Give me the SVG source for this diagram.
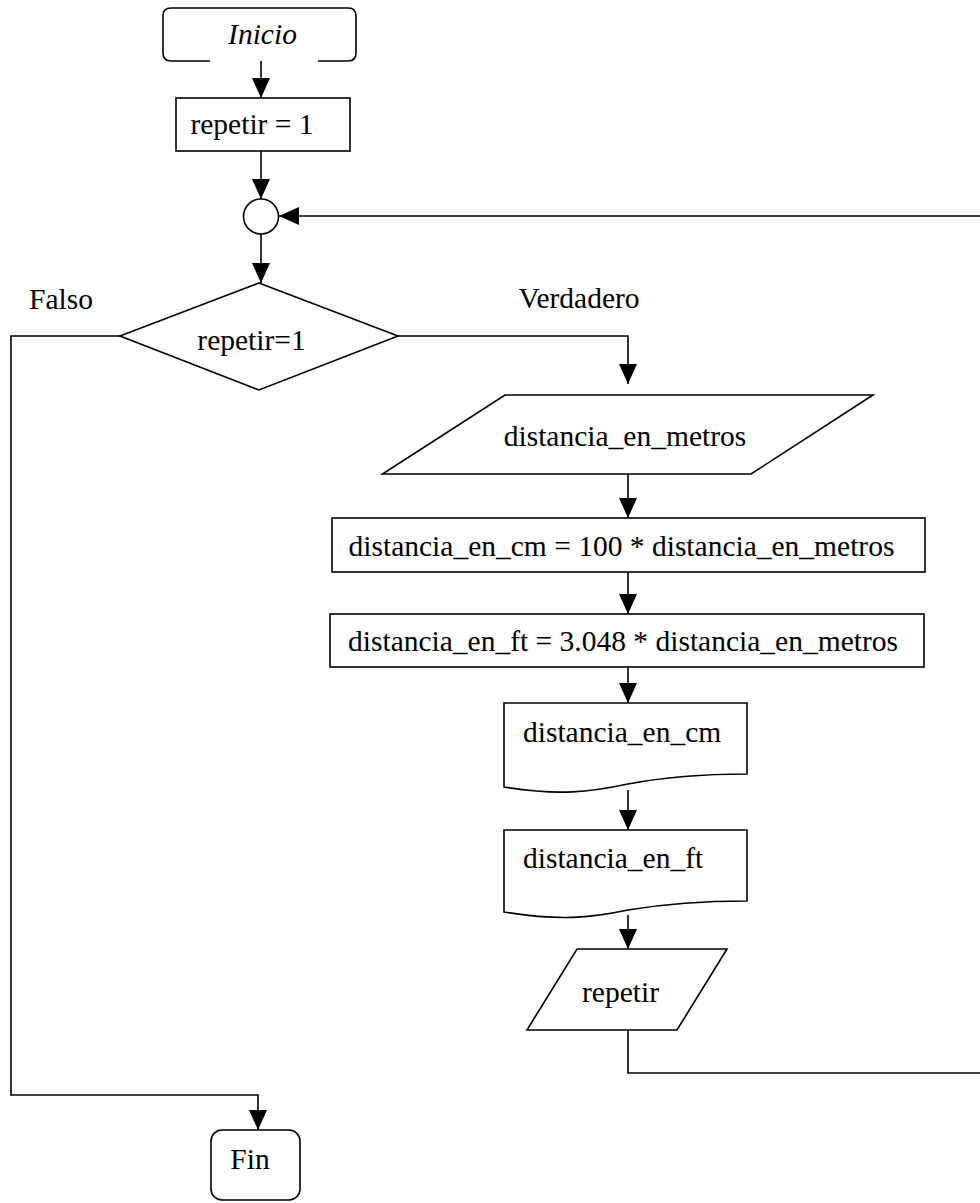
<svg xmlns="http://www.w3.org/2000/svg" width="980" height="1203" viewBox="0 0 980 1203" font-family="'Liberation Serif', 'Times New Roman', Times, serif">
<style>
.s{fill:#fff;stroke:#000;stroke-width:1.6}
.c{fill:none;stroke:#000;stroke-width:1.6}
text{font-family:'Liberation Serif','Times New Roman',Times,serif;font-size:29.5px;fill:#000}
.m{text-anchor:middle}
</style>
<defs>
<marker id="ah" markerUnits="userSpaceOnUse" markerWidth="20" markerHeight="18" refX="20" refY="9" orient="auto">
<path d="M0,0 L20,9 L0,18 z" fill="#000"/>
</marker>
</defs>
<rect width="980" height="1203" fill="#fff"/>
<g id="connectors">
<path class="c" d="M261,61 V98" marker-end="url(#ah)"/>
<path class="c" d="M261,151 V199" marker-end="url(#ah)"/>
<path class="c" d="M261,234 V283" marker-end="url(#ah)"/>
<path class="c" d="M398,336 H628 V384" marker-end="url(#ah)"/>
<path class="c" d="M628,474 V518" marker-end="url(#ah)"/>
<path class="c" d="M628,572 V614" marker-end="url(#ah)"/>
<path class="c" d="M628,667 V703" marker-end="url(#ah)"/>
<path class="c" d="M628,790 V830" marker-end="url(#ah)"/>
<path class="c" d="M628,915 V949" marker-end="url(#ah)"/>
<path class="c" d="M628,1030 V1073 H990 V216 H279" marker-end="url(#ah)"/>
<path class="c" d="M120,336 H11 V1095 H258 V1130" marker-end="url(#ah)"/>
</g>
<g id="inicio">
<path class="c" d="M210,61 H171 Q163,61 163,53 V16 Q163,8 171,8 H348 Q356,8 356,16 V53 Q356,61 348,61 H318"/>
<text class="m" x="262.5" y="44" font-style="italic">Inicio</text>
</g>
<g id="init">
<rect class="s" x="176" y="98" width="174" height="53"/>
<text class="m" x="252" y="134">repetir = 1</text>
</g>
<g id="connector-circle">
<circle class="s" cx="261" cy="216.5" r="17.5"/>
</g>
<g id="decision">
<polygon class="s" points="259,283 398,336 259,390 120,336"/>
<text class="m" x="251.5" y="350">repetir=1</text>
<text x="29" y="309">Falso</text>
<text class="m" x="579" y="308">Verdadero</text>
</g>
<g id="input-metros">
<polygon class="s" points="505,395 873,395 751,474 382.5,474"/>
<text class="m" x="625" y="446">distancia_en_metros</text>
</g>
<g id="calc-cm">
<rect class="s" x="332" y="518" width="593" height="54"/>
<text class="m" x="621.5" y="556">distancia_en_cm = 100 * distancia_en_metros</text>
</g>
<g id="calc-ft">
<rect class="s" x="330" y="614" width="594" height="53"/>
<text class="m" x="623" y="651">distancia_en_ft = 3.048 * distancia_en_metros</text>
</g>
<g id="out-cm">
<path class="s" d="M504,703 H747 V774 C715,774 670,776 628,784 C590,792 560,796 504,787 Z"/>
<text x="523" y="742">distancia_en_cm</text>
</g>
<g id="out-ft">
<path class="s" d="M504,830 H747 V901 C715,901 670,903 628,910 C590,918 560,921 504,912 Z"/>
<text x="523" y="868">distancia_en_ft</text>
</g>
<g id="input-repetir">
<polygon class="s" points="577,949 727,949 677,1030 527,1030"/>
<text class="m" x="620.5" y="1002">repetir</text>
</g>
<g id="fin">
<rect class="s" x="211" y="1130" width="89" height="70" rx="11"/>
<text class="m" x="250" y="1169">Fin</text>
</g>
</svg>
